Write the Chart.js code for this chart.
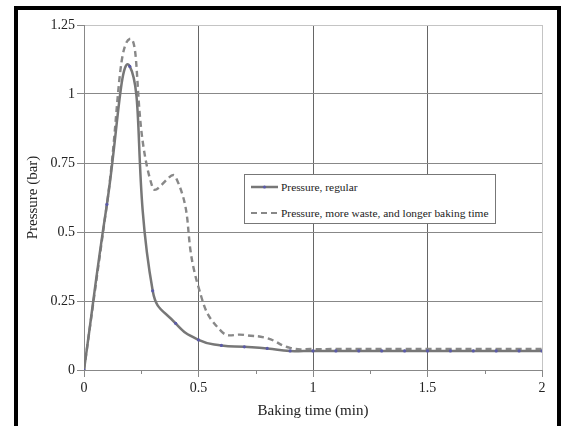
<!DOCTYPE html>
<html><head><meta charset="utf-8">
<script src="https://cdn.jsdelivr.net/npm/chart.js@4.4.1/dist/chart.umd.min.js"></script>
<style>
html,body{margin:0;padding:0;background:#fff;width:563px;height:426px;overflow:hidden;}
#c{position:absolute;left:0;top:0;}
#frame{position:absolute;left:14px;top:6px;width:539px;height:440px;border:4px solid #000;border-bottom:none;pointer-events:none;}
#legend{position:absolute;left:244px;top:174px;width:250px;height:48px;border:1px solid #777;background:#fff;font-family:"Liberation Serif";font-size:11.4px;color:#222;}
.row{position:absolute;left:6px;height:14px;display:flex;align-items:center;white-space:nowrap;}
.row svg{margin-right:3px;}
</style></head>
<body>
<canvas id="c" width="563" height="426"></canvas>
<div id="frame"></div>
<div id="legend"></div>
<script>
const timeMin = [0,0.1,0.2,0.3,0.4,0.5,0.6,0.7,0.8,0.9,1.0,1.1,1.2,1.3,1.4,1.5,1.6,1.7,1.8,1.9,2.0];
const pressureRegular = [0,0.6,1.1,0.287,0.169,0.109,0.089,0.084,0.078,0.069,0.069,0.069,0.069,0.069,0.069,0.069,0.069,0.069,0.069,0.069,0.069];
const pressureWaste = [0,0.6,1.2,0.66,0.70,0.30,0.14,0.127,0.115,0.08,0.076,0.076,0.076,0.076,0.076,0.076,0.076,0.076,0.076,0.076,0.076];
const seriesLabels = ['Pressure, regular','Pressure, more waste, and longer baking time'];
const xTickValues = [0,0.5,1,1.5,2];
const xMinorTicks = [0.25,0.75,1.25,1.75];
const yTickValues = [0,0.25,0.5,0.75,1,1.25];
const xTitle = 'Baking time (min)';
const yTitle = 'Pressure (bar)';

const toPts = arr => arr.map((v,i)=>({x:timeMin[i], y:v}));
const tickFont = {family:'"Liberation Serif"', size:14};
const titleFont = {family:'"Liberation Serif"', size:15};

const minorTicks = {
  id:'minorTicks',
  afterDraw(chart){
    const x = chart.scales.x, ctx = chart.ctx;
    const y0 = chart.chartArea.bottom;
    ctx.save();
    ctx.strokeStyle = '#888'; ctx.lineWidth = 1;
    xMinorTicks.forEach(v=>{
      const px = Math.round(x.getPixelForValue(v))+0.5;
      ctx.beginPath(); ctx.moveTo(px,y0); ctx.lineTo(px,y0+4); ctx.stroke();
    });
    ctx.restore();
  }
};

new Chart(document.getElementById('c'), {
  type:'line',
  data:{datasets:[
    {label:seriesLabels[0], data:toPts(pressureRegular), borderColor:'#777777', borderWidth:2.5,
     pointRadius:1.6, pointBackgroundColor:'#5a5aa8', pointBorderWidth:0, tension:0.5, fill:false},
    {label:seriesLabels[1], data:toPts(pressureWaste), borderColor:'#888888', borderWidth:2.4, borderDash:[6,4],
     pointRadius:0, tension:0.5, fill:false}
  ]},
  options:{
    responsive:false, animation:false, devicePixelRatio:1,
    layout:{padding:{top:25,right:21,left:0,bottom:0}},
    plugins:{legend:{display:false}, tooltip:{enabled:false}},
    scales:{
      x:{type:'linear', min:0, max:2,
        afterFit:s=>{s.height=56;},
        afterBuildTicks:s=>{s.ticks = xTickValues.map(v=>({value:v}));},
        ticks:{font:tickFont, color:'#222', padding:3, maxRotation:0, callback:v=>String(v)},
        grid:{color:c=>c.tick && c.tick.value===2?'#c4c4c4':'#666', tickLength:7, tickColor:'#888'},
        border:{color:'#888'},
        title:{display:true, text:xTitle, font:titleFont, color:'#222', padding:{top:0,bottom:6}}
      },
      y:{type:'linear', min:0, max:1.25,
        afterFit:s=>{s.width=84;},
        afterBuildTicks:s=>{s.ticks = yTickValues.map(v=>({value:v}));},
        ticks:{font:tickFont, color:'#222', padding:2, callback:v=>String(v)},
        grid:{color:c=>c.tick && c.tick.value===1.25?'#c4c4c4':'#888', tickLength:7, tickColor:'#888'},
        border:{color:'#888'},
        title:{display:true, text:yTitle, font:titleFont, color:'#222', padding:{top:24,bottom:0}}
      }
    }
  },
  plugins:[minorTicks]
});

const lg = document.getElementById('legend');
const rows = [
  {top:5, svg:'<svg width="27" height="6"><line x1="0" y1="3" x2="27" y2="3" stroke="#777777" stroke-width="2.5"/><circle cx="13.5" cy="3" r="1.6" fill="#5a5aa8"/></svg>', label:seriesLabels[0]},
  {top:31, svg:'<svg width="27" height="6"><line x1="0" y1="3" x2="27" y2="3" stroke="#888888" stroke-width="2.2" stroke-dasharray="6,4"/></svg>', label:seriesLabels[1]}
];
rows.forEach(r=>{
  const d = document.createElement('div'); d.className='row'; d.style.top=r.top+'px';
  d.innerHTML = r.svg + '<span>'+r.label+'</span>';
  lg.appendChild(d);
});
</script>
</body></html>
